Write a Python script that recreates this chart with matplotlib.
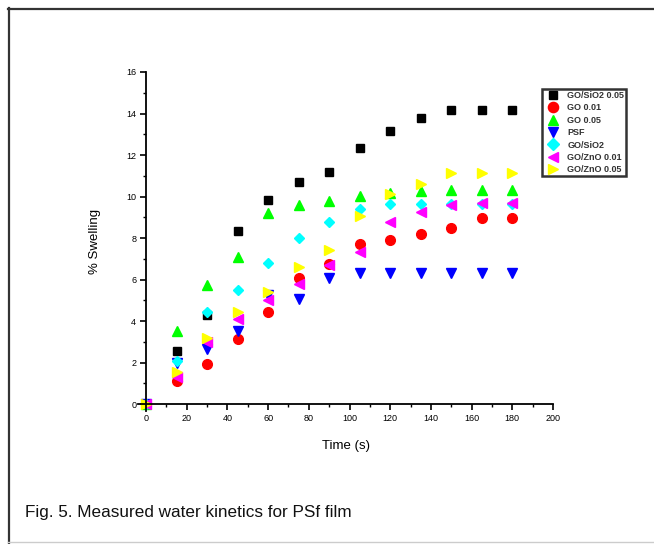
import numpy as np
import matplotlib
matplotlib.use("Agg")
import matplotlib.pyplot as plt
from matplotlib.lines import Line2D
from matplotlib.ticker import MultipleLocator

plt.rcParams['font.family'] = ['Liberation Sans', 'DejaVu Sans']

# time points (s)
time_s = [0, 15, 30, 45, 60, 75, 90, 105, 120, 135, 150, 165, 180]

# % swelling per membrane
go_sio2_005 = [0, 2.54, 4.3, 8.34, 9.83, 10.7, 11.18, 12.34, 13.16, 13.78, 14.17, 14.17, 14.17]
go_001 = [0, 1.12, 1.91, 3.15, 4.42, 6.07, 6.75, 7.71, 7.89, 8.18, 8.47, 8.95, 8.95]
go_005 = [0, 3.53, 5.72, 7.1, 9.22, 9.57, 9.8, 10.02, 10.15, 10.25, 10.31, 10.31, 10.31]
psf = [0, 1.96, 2.65, 3.52, 5.24, 5.05, 6.09, 6.3, 6.3, 6.3, 6.3, 6.3, 6.3]
go_sio2 = [0, 2.07, 4.42, 5.49, 6.81, 7.98, 8.76, 9.4, 9.65, 9.65, 9.63, 9.63, 9.63]
go_zno_001 = [0, 1.32, 3.0, 4.11, 5.01, 5.77, 6.7, 7.33, 8.79, 9.24, 9.57, 9.67, 9.67]
go_zno_005 = [0, 1.56, 3.21, 4.42, 5.38, 6.59, 7.42, 9.08, 10.12, 10.59, 11.12, 11.12, 11.12]

labels = ["GO/SiO2 0.05", "GO 0.01", "GO 0.05", "PSF", "GO/SiO2",
          "GO/ZnO 0.01", "GO/ZnO 0.05"]
series = [go_sio2_005, go_001, go_005, psf, go_sio2, go_zno_001, go_zno_005]
colors = ["#000000", "#ff0000", "#00ff00", "#0000ff", "#00ffff", "#ff00ff", "#ffff00"]
markers = ["s", "o", "^", "v", "D", "<", ">"]
sizes = [5.5, 7, 7, 7, 5.5, 7, 7]

fig = plt.figure(figsize=(6.54, 5.44), dpi=100)

# page frame lines (figure pixel coords)
fig.add_artist(Line2D([8.5 / 654, 8.5 / 654], [0, 1 - 8 / 544], color="#333333",
                      lw=1.6, transform=fig.transFigure))
fig.add_artist(Line2D([8 / 654, 1], [1 - 8.5 / 544, 1 - 8.5 / 544], color="#333333",
                      lw=1.6, transform=fig.transFigure))
fig.add_artist(Line2D([8 / 654, 1], [2.5 / 544, 2.5 / 544], color="#cccccc",
                      lw=1.0, transform=fig.transFigure))

ax = fig.add_axes([138.3 / 654, (544 - 411) / 544, 414.7 / 654, 339 / 544])

for vals, lab, col, mk, ms in zip(series, labels, colors, markers, sizes):
    ax.plot(time_s, vals, linestyle="none", marker=mk, markersize=ms,
            color=col, markeredgecolor=col, label=lab, clip_on=False)

ax.set_xlim(-3.8, 200)
ax.set_ylim(-0.33, 16)
ax.spines["left"].set_position(("data", 0))
ax.spines["bottom"].set_position(("data", 0))
ax.spines["top"].set_visible(False)
ax.spines["right"].set_visible(False)
for s in ("left", "bottom"):
    ax.spines[s].set_linewidth(1.3)

ax.xaxis.set_major_locator(MultipleLocator(20))
ax.xaxis.set_minor_locator(MultipleLocator(10))
ax.yaxis.set_major_locator(MultipleLocator(2))
ax.yaxis.set_minor_locator(MultipleLocator(1))
ax.tick_params(which="major", direction="out", length=4, width=1.2,
               labelsize=6.5, pad=3)
ax.tick_params(which="minor", direction="out", length=2.5, width=1.0)

ax.set_xlabel("Time (s)", fontsize=9.5, labelpad=12)
ax.set_ylabel("% Swelling", fontsize=9.5, labelpad=18)

leg = ax.legend(loc="upper left", bbox_to_anchor=(542 / 654, 1 - 89 / 544),
                bbox_transform=fig.transFigure, fontsize=6.5, frameon=True,
                fancybox=False, edgecolor="#000000", borderpad=0.2,
                labelspacing=0.38, handlelength=2.0, handletextpad=0.6,
                markerscale=1.05, borderaxespad=0)
leg.get_frame().set_linewidth(1.8)
for t in leg.get_texts():
    t.set_fontweight("bold")
    t.set_color("#333333")

fig.text(25 / 654, 1 - 513 / 544, "Fig. 5. Measured water kinetics for PSf film",
         fontsize=12.3, va="center", ha="left", color="#111111")

fig.savefig("out.png", dpi=100)
